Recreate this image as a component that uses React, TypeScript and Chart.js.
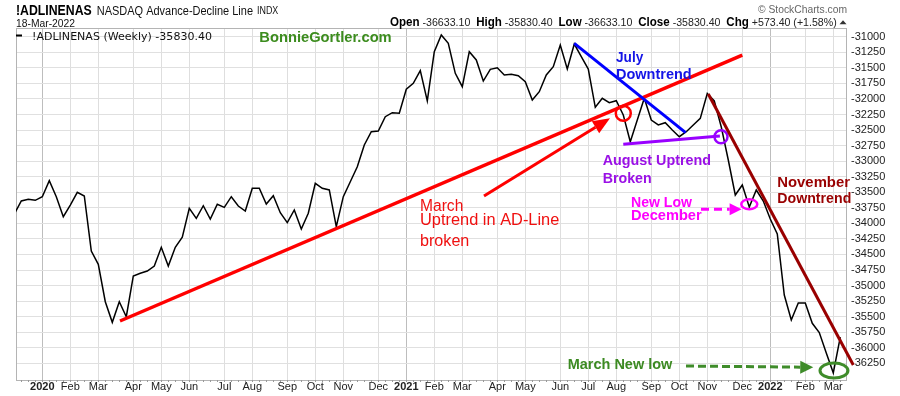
import React, { useEffect, useRef } from "react";
import { Chart, registerables } from "chart.js";
Chart.register(...registerables);

// Weekly NASDAQ Advance-Decline line, weeks starting Mon 9-Dec-2019 .. Mon 14-Mar-2022
const adLineValues: number[] = [
  -33849, -33640, -33613, -33629, -33571, -33314, -33571, -33893, -33705, -33500,
  -33560, -34444, -34658, -35260, -35591, -35260, -35501, -34846, -34803, -34766,
  -34686, -34385, -34686, -34385, -34224, -33758, -33919, -33716, -33930, -33693,
  -33742, -33571, -33721, -33801, -33436, -33436, -33689, -33555, -33829, -33989,
  -33785, -34091, -33838, -33356, -33436, -33463, -34054, -33571, -33330, -33089,
  -32740, -32526, -32515, -32285, -32220, -32230, -31844, -31748, -31545, -32032,
  -31240, -30971, -31105, -31587, -31802, -31240, -31373, -31711, -31523, -31497,
  -31614, -31603, -31625, -31722, -32016, -31883, -31614, -31481, -31132, -31518,
  -31116, -31320, -31518, -32134, -31989, -32060, -32028, -32257, -32687, -32338,
  -31989, -32338, -32418, -32381, -32499, -32606, -32526, -32418, -32311, -31912,
  -32032, -32450, -32981, -33544, -33383, -33737, -33463, -33640, -33930, -34171,
  -35152, -35554, -35281, -35281, -35607, -35755, -36084, -36403.8, -35830.4,
];

// first weekly bar of each month (week index) and its label
const monthTickWeeks: number[] = [4, 8, 12, 17, 21, 25, 30, 34, 39, 43, 47, 52, 56, 60, 64, 69, 73, 78, 82, 86, 91, 95, 99, 104, 108, 113, 117];
const monthTickLabels: string[] = ["2020", "Feb", "Mar", "Apr", "May", "Jun", "Jul", "Aug", "Sep", "Oct", "Nov", "Dec", "2021", "Feb", "Mar", "Apr", "May", "Jun", "Jul", "Aug", "Sep", "Oct", "Nov", "Dec", "2022", "Feb", "Mar"];
const yearLabels: string[] = ["2020", "2021", "2022"];
const yTickValues: number[] = [-31000, -31250, -31500, -31750, -32000, -32250, -32500, -32750, -33000, -33250, -33500, -33750, -34000, -34250, -34500, -34750, -35000, -35250, -35500, -35750, -36000, -36250];

// header text
const symbolName = "!ADLINENAS";
const symbolTitle = "NASDAQ Advance-Decline Line";
const symbolExch = "INDX";
const quoteDate = "18-Mar-2022";
const quoteFields: [string, string][] = [["Open", "-36633.10"], ["High", "-35830.40"], ["Low", "-36633.10"], ["Close", "-35830.40"], ["Chg", "+573.40 (+1.58%)"]];
const legendText = "!ADLINENAS (Weekly) -35830.40";

// annotations, in (week index, value)
const redTrend: number[][] = [[15.1, -35570], [104.0, -31293]];
const redArrow: number[][] = [[67.1, -33560], [85.1, -32310]];
const redCircle: number[] = [87.0, -32230];
const blueTrend: number[][] = [[80.0, -31105], [95.91, -32542]];
const purpleTrend: number[][] = [[87.0, -32729], [100.8, -32595]];
const purpleCircle: number[] = [100.96, -32606];
const brownTrend: number[][] = [[99.14, -31920], [119.86, -36277]];
const magentaArrow: number[][] = [[98.1, -33774], [103.91, -33774]];
const magentaEllipse: number[] = [105.0, -33693];
const greenArrow: number[][] = [[95.96, -36294], [114.14, -36314]];
const greenEllipse: number[] = [117.1, -36366];

const noteMarch: string[] = ["March", "Uptrend in AD-Line", "broken"];
const noteMarchPos: number[][] = [[57.96, -33796], [57.96, -34026], [57.96, -34364]];
const noteJuly: string[] = ["July", "Downtrend"];
const noteJulyPos: number[][] = [[85.96, -31410], [85.96, -31683]];
const noteAug: string[] = ["August Uptrend", "Broken"];
const noteAugPos: number[][] = [[84.06, -33061], [84.06, -33346]];
const noteDec: string[] = ["New Low", "December"];
const noteDecPos: number[][] = [[88.1, -33732], [88.1, -33946]];
const noteNov: string[] = ["November", "Downtrend"];
const noteNovPos: number[][] = [[109.0, -33420], [109.0, -33677]];
const noteMarNew = "March New low";
const noteMarNewPos: number[] = [79.06, -36347];
const watermark = "BonnieGortler.com";

const SANS = '"Liberation Sans", Arial, sans-serif';

function drawText(ctx: CanvasRenderingContext2D, s: string, x: number, y: number, font: string, color: string, width?: number) {
  ctx.save();
  ctx.font = font;
  ctx.fillStyle = color;
  ctx.textAlign = "left";
  ctx.textBaseline = "alphabetic";
  if (width) {
    const w = ctx.measureText(s).width;
    ctx.translate(x, y);
    ctx.scale(width / w, 1);
    ctx.fillText(s, 0, 0);
  } else {
    ctx.fillText(s, x, y);
  }
  ctx.restore();
}

function arrowHead(ctx: CanvasRenderingContext2D, x0: number, y0: number, x1: number, y1: number, len: number, half: number, color: string) {
  const a = Math.atan2(y1 - y0, x1 - x0);
  const bx = x1 - len * Math.cos(a);
  const by = y1 - len * Math.sin(a);
  ctx.save();
  ctx.fillStyle = color;
  ctx.beginPath();
  ctx.moveTo(x1, y1);
  ctx.lineTo(bx + half * Math.sin(a), by - half * Math.cos(a));
  ctx.lineTo(bx - half * Math.sin(a), by + half * Math.cos(a));
  ctx.closePath();
  ctx.fill();
  ctx.restore();
  return [bx, by];
}

const annotationPlugin = {
  id: "annotations",
  beforeDatasetsDraw(chart: any) {
    const { ctx, chartArea: ca } = chart;
    ctx.save();
    ctx.strokeStyle = "#b4b4b4";
    ctx.lineWidth = 1;
    ctx.strokeRect(ca.left + 0.5, ca.top + 0.5, ca.right - ca.left - 1, ca.bottom - ca.top);
    // minor weekly ticks under the axis
    const xs = chart.scales.x;
    ctx.strokeStyle = "#999";
    for (let i = 0; i < adLineValues.length; i++) {
      const px = Math.round(xs.getPixelForValue(i)) + 0.5;
      if (px < ca.left || px > ca.right) continue;
      ctx.beginPath();
      ctx.moveTo(px, ca.bottom);
      ctx.lineTo(px, ca.bottom + 2);
      ctx.stroke();
    }
    ctx.restore();
  },
  afterDatasetsDraw(chart: any) {
    const { ctx, chartArea: ca } = chart;
    const xs = chart.scales.x;
    const ys = chart.scales.y;
    const X = (i: number) => xs.getPixelForValue(i);
    const Y = (v: number) => ys.getPixelForValue(v);

    const line = (p: number[][], color: string, w: number, dash?: number[]) => {
      ctx.save();
      ctx.strokeStyle = color;
      ctx.lineWidth = w;
      ctx.lineCap = "butt";
      if (dash) ctx.setLineDash(dash);
      ctx.beginPath();
      ctx.moveTo(X(p[0][0]), Y(p[0][1]));
      ctx.lineTo(X(p[1][0]), Y(p[1][1]));
      ctx.stroke();
      ctx.restore();
    };
    const arrow = (p: number[][], color: string, w: number, len: number, half: number, dash?: number[]) => {
      const x0 = X(p[0][0]), y0 = Y(p[0][1]), x1 = X(p[1][0]), y1 = Y(p[1][1]);
      const [bx, by] = arrowHead(ctx, x0, y0, x1, y1, len, half, color);
      ctx.save();
      ctx.strokeStyle = color;
      ctx.lineWidth = w;
      if (dash) ctx.setLineDash(dash);
      ctx.beginPath();
      ctx.moveTo(x0, y0);
      ctx.lineTo(bx, by);
      ctx.stroke();
      ctx.restore();
    };
    const ellipse = (c: number[], rx: number, ry: number, color: string, w: number) => {
      ctx.save();
      ctx.strokeStyle = color;
      ctx.lineWidth = w;
      ctx.beginPath();
      ctx.ellipse(X(c[0]), Y(c[1]), rx, ry, 0, 0, Math.PI * 2);
      ctx.stroke();
      ctx.restore();
    };
    const label = (s: string, p: number[], size: number, bold: boolean, color: string, width?: number) => {
      drawText(ctx, s, X(p[0]), Y(p[1]), `${bold ? "bold " : ""}${size}px ${SANS}`, color, width);
    };

    line(redTrend, "#ff0000", 3.5);
    arrow(redArrow, "#ff0000", 3, 17, 7);
    ellipse(redCircle, 7.5, 7.5, "#ff0000", 2.5);
    line(blueTrend, "#0000ff", 3);
    line(purpleTrend, "#9900ff", 3);
    ellipse(purpleCircle, 6.5, 6.5, "#9900ff", 2.5);
    line(brownTrend, "#990000", 3);
    arrow(magentaArrow, "#ff00ff", 3, 12, 6, [8, 5]);
    ellipse(magentaEllipse, 8, 5, "#ff00ff", 2.5);
    arrow(greenArrow, "#3f8c2a", 3, 13, 6.5, [8, 4]);
    ellipse(greenEllipse, 14, 7.5, "#3f8c2a", 3);

    const redW = [43.3, 139.3, 49.3];
    noteMarch.forEach((s, k) => label(s, noteMarchPos[k], 16, false, "#f01010", redW[k]));
    const julyW = [27.3, 75.7];
    noteJuly.forEach((s, k) => label(s, noteJulyPos[k], 15, true, "#1414e6", julyW[k]));
    const augW = [108.3, 49];
    noteAug.forEach((s, k) => label(s, noteAugPos[k], 14, true, "#9a10e6", augW[k]));
    const decW = [61, 70.7];
    noteDec.forEach((s, k) => label(s, noteDecPos[k], 14, true, "#ff00ff", decW[k]));
    const novW = [72.7, 74];
    noteNov.forEach((s, k) => label(s, noteNovPos[k], 15, true, "#990000", novW[k]));
    label(noteMarNew, noteMarNewPos, 14, true, "#3c8a22", 104.6);

    // watermark and legend
    drawText(ctx, watermark, ca.left + 243.3, ca.top + 13.7, `bold 14px ${SANS}`, "#3c8c1e", 132.4);
    ctx.save();
    ctx.fillStyle = "#000";
    ctx.fillRect(ca.left, ca.top + 6.5, 6, 2);
    ctx.restore();
    drawText(ctx, legendText, ca.left + 16, ca.top + 11.5, `10px "DejaVu Sans", sans-serif`, "#111", 180);
  },
  afterDraw(chart: any) {
    const { ctx, chartArea: ca } = chart;
    // header, left
    drawText(ctx, symbolName, ca.left, 15, `bold 15px ${SANS}`, "#000", 75.7);
    drawText(ctx, symbolTitle, 96.7, 14.5, `12px ${SANS}`, "#111", 156.3);
    drawText(ctx, symbolExch, 257, 14, `10px ${SANS}`, "#111", 21.3);
    drawText(ctx, quoteDate, ca.left, 26.5, `11px ${SANS}`, "#111", 59);
    drawText(ctx, "\u00A9 StockCharts.com", 758, 13.3, `11px ${SANS}`, "#666", 89);
    // header, right quote line
    ctx.save();
    const segs: { t: string; bold: boolean }[] = [];
    quoteFields.forEach(([k, v], idx) => {
      segs.push({ t: k, bold: true });
      segs.push({ t: " " + v + (idx < quoteFields.length - 1 ? "  " : ""), bold: false });
    });
    const fontB = `bold 12px ${SANS}`;
    const fontN = `11px ${SANS}`;
    let total = 0;
    const widths = segs.map((s) => {
      ctx.font = s.bold ? fontB : fontN;
      const w = ctx.measureText(s.t).width;
      total += w;
      return w;
    });
    const startX = 390;
    const endX = 836.7;
    const k = (endX - startX) / total;
    ctx.translate(startX, 25.5);
    ctx.scale(k, 1);
    ctx.fillStyle = "#000";
    ctx.textBaseline = "alphabetic";
    let cx = 0;
    segs.forEach((s, i) => {
      ctx.font = s.bold ? fontB : fontN;
      ctx.fillStyle = s.bold ? "#000" : "#222";
      ctx.fillText(s.t, cx, 0);
      cx += widths[i];
    });
    ctx.restore();
    ctx.save();
    ctx.fillStyle = "#333";
    ctx.beginPath();
    ctx.moveTo(839.5, 24.3);
    ctx.lineTo(846.5, 24.3);
    ctx.lineTo(843, 20.3);
    ctx.closePath();
    ctx.fill();
    ctx.restore();
  },
};

export default function App() {
  const ref = useRef<HTMLCanvasElement | null>(null);
  useEffect(() => {
    document.body.style.margin = "0";
    const canvas = ref.current;
    if (!canvas) return;
    const data = adLineValues.map((v, i) => ({ x: i, y: v }));
    const chart = new Chart(canvas, {
      type: "line",
      data: {
        datasets: [
          {
            data,
            borderColor: "#000",
            borderWidth: 1.5,
            pointRadius: 0,
            tension: 0,
            fill: false,
          },
        ],
      },
      options: {
        animation: false,
        responsive: false,
        devicePixelRatio: 1,
        events: [],
        layout: { padding: { left: 16, top: 28, right: 0, bottom: 0 } },
        plugins: { legend: { display: false }, tooltip: { enabled: false }, title: { display: false } },
        scales: {
          x: {
            type: "linear",
            position: "bottom",
            min: 0.243,
            max: 118.96,
            afterBuildTicks: (scale: any) => {
              scale.ticks = monthTickWeeks.map((v) => ({ value: v }));
            },
            afterFit: (scale: any) => {
              scale.height = 16;
            },
            grid: {
              drawTicks: false,
              color: (c: any) => {
                const idx = c.index;
                const lab = monthTickLabels[idx];
                return yearLabels.includes(lab) ? "#bdbdbd" : "#dedede";
              },
              lineWidth: 1,
            },
            border: { display: false },
            ticks: {
              autoSkip: false,
              maxRotation: 0,
              padding: 0,
              color: "#222",
              callback: (_v: any, i: number) => monthTickLabels[i],
              font: (c: any) => {
                const lab = monthTickLabels[c.index];
                return yearLabels.includes(lab)
                  ? { family: SANS, size: 11, weight: "bold" }
                  : { family: SANS, size: 11, weight: "normal" };
              },
            },
          },
          y: {
            type: "linear",
            position: "right",
            min: -36518.6,
            max: -30858.5,
            afterBuildTicks: (scale: any) => {
              scale.ticks = yTickValues.map((v) => ({ value: v }));
            },
            afterFit: (scale: any) => {
              scale.width = 53;
            },
            grid: { drawTicks: false, color: "#e0e0e0", lineWidth: 1 },
            border: { display: false },
            ticks: {
              padding: 4,
              color: "#222",
              font: { family: SANS, size: 11 },
              callback: (v: any) => String(v),
            },
          },
        },
      },
      plugins: [annotationPlugin],
    } as any);
    return () => chart.destroy();
  }, []);
  return (
    <div style={{ width: 900, height: 396, background: "#fff" }}>
      <canvas ref={ref} width={900} height={396} style={{ display: "block", width: 900, height: 396 }} />
    </div>
  );
}
